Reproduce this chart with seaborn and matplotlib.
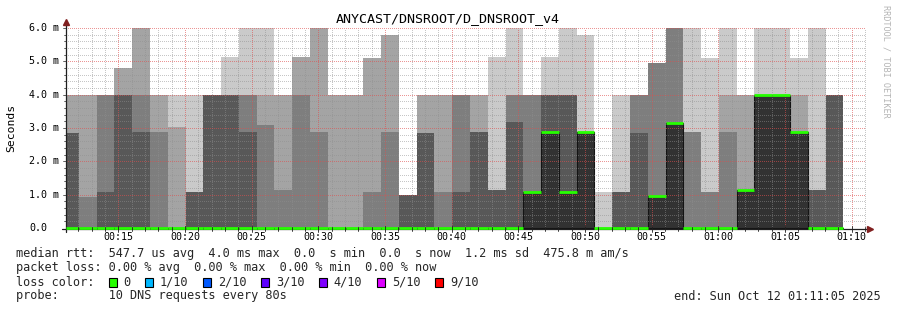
import matplotlib
matplotlib.use("Agg")
import matplotlib.pyplot as plt
from matplotlib.lines import Line2D
from matplotlib.patches import Rectangle
from matplotlib import transforms
import numpy as np
import pandas as pd
import seaborn as sns

# ---------------- data ----------------
title = "ANYCAST/DNSROOT/D_DNSROOT_v4"
window_start = "00:11:05"
window_end = "01:11:05"
step_s = 80  # probe interval (10 DNS requests every 80s)

bucket_start = [
    "00:10:43", "00:12:03", "00:13:23", "00:14:43", "00:16:03", "00:17:23",
    "00:18:43", "00:20:03", "00:21:23", "00:22:43", "00:24:03", "00:25:23",
    "00:26:43", "00:28:03", "00:29:23", "00:30:43", "00:32:03", "00:33:23",
    "00:34:43", "00:36:03", "00:37:23", "00:38:43", "00:40:03", "00:41:23",
    "00:42:43", "00:44:03", "00:45:23", "00:46:43", "00:48:03", "00:49:23",
    "00:50:43", "00:52:03", "00:53:23", "00:54:43", "00:56:03", "00:57:23",
    "00:58:43", "01:00:03", "01:01:23", "01:02:43", "01:04:03", "01:05:23",
    "01:06:43", "01:08:03",
]

# sorted ping RTTs per bucket (ms); pings 1-5 were all 0.0 in every bucket
ping1 = [0.0] * 44
ping2 = [0.0] * 44
ping3 = [0.0] * 44
ping4 = [0.0] * 44
ping5 = [0.0] * 44
ping6 = [0, 0, 0, 0, 0, 0, 0, 0, 0, 0, 0, 0, 0, 0, 0, 0, 0, 0, 0, 0, 0, 0,
         0, 0, 0, 0, 1.09, 2.87, 1.09, 2.89, 0, 0, 0, 0.95, 3.15, 0, 0, 0,
         1.15, 4.0, 4.0, 2.89, 0, 0]
ping7 = [2.85, 0, 1.09, 4.0, 2.87, 0, 0, 1.09, 4.0, 4.0, 2.89, 0, 0, 0, 0,
         0, 0, 0, 0, 0.99, 2.85, 0, 1.09, 2.89, 1.15, 3.19, 1.09, 4.0, 4.0,
         2.89, 0, 1.09, 2.85, 0.95, 3.15, 0, 0, 0, 1.15, 4.0, 4.0, 2.89,
         1.15, 4.0]
ping8 = [2.85, 0.94, 4.0, 4.0, 4.0, 2.87, 0, 1.09, 4.0, 4.0, 4.0, 3.09,
         1.15, 4.0, 2.89, 0, 0, 1.09, 2.89, 0.99, 2.85, 1.09, 4.0, 2.89,
         1.15, 4.0, 4.0, 4.0, 4.0, 2.89, 0, 1.09, 4.0, 4.95, 6.0, 2.89,
         1.09, 2.89, 1.15, 4.0, 4.0, 2.89, 1.15, 4.0]
ping9 = [4.0, 4.0, 4.0, 4.8, 6.0, 4.0, 3.02, 1.09, 4.0, 4.0, 4.0, 4.0, 4.0,
         5.14, 6.0, 4.0, 4.0, 5.1, 5.79, 0.99, 4.0, 4.0, 4.0, 4.0, 1.15,
         4.0, 4.0, 4.0, 4.0, 2.89, 0, 1.09, 4.0, 4.95, 6.0, 2.89, 1.09,
         4.0, 4.0, 4.0, 4.0, 4.0, 1.15, 4.0]
ping10 = [4.0, 4.0, 4.0, 4.8, 6.0, 4.0, 4.0, 4.0, 4.0, 5.14, 6.0, 6.0, 4.0,
          5.14, 6.0, 4.0, 4.0, 5.1, 5.79, 0.99, 4.0, 4.0, 4.0, 4.0, 5.14,
          6.0, 4.0, 5.14, 6.0, 5.79, 1.09, 4.0, 4.0, 4.95, 6.0, 6.0, 5.1,
          6.0, 4.0, 6.0, 6.0, 5.1, 6.0, 4.0]
median_ms = [0, 0, 0, 0, 0, 0, 0, 0, 0, 0, 0, 0, 0, 0, 0, 0, 0, 0, 0, 0, 0,
             0, 0, 0, 0, 0, 1.09, 2.87, 1.09, 2.89, 0, 0, 0, 0.95, 3.15, 0,
             0, 0, 1.15, 4.0, 4.0, 2.89, 0, 0]

x_tick_labels = ["00:15", "00:20", "00:25", "00:30", "00:35", "00:40",
                 "00:45", "00:50", "00:55", "01:00", "01:05", "01:10"]
y_tick_values = [0, 1, 2, 3, 4, 5, 6]
y_tick_labels = ["0.0", "1.0 m", "2.0 m", "3.0 m", "4.0 m", "5.0 m", "6.0 m"]
y_label = "Seconds"

loss_labels = ["0", "1/10", "2/10", "3/10", "4/10", "5/10", "9/10"]
loss_colors = ["#26ff00", "#00b8ff", "#0059ff", "#5e00ff", "#7e00ff",
               "#dd00ff", "#ff0000"]
smoke_colors = ["#cacaca", "#a4a4a4", "#7e7e7e", "#585858", "#323232"]

line_rtt = "median rtt:  547.7 us avg  4.0 ms max  0.0  s min  0.0  s now  1.2 ms sd  475.8 m am/s"
line_loss = "packet loss: 0.00 % avg  0.00 % max  0.00 % min  0.00 % now"
line_color = "loss color:"
line_probe = "probe:       10 DNS requests every 80s"
line_end = "end: Sun Oct 12 01:11:05 2025"
watermark = "RRDTOOL / TOBI OETIKER"

# ---------------- style ----------------
sns.set_theme(style="white")
plt.rcParams["font.family"] = ["DejaVu Sans Mono", "DejaVu Sans"]

W, H = 897, 310
fig = plt.figure(figsize=(W / 100, H / 100), dpi=100, facecolor="white")
ax = fig.add_axes([66 / W, (H - 228) / H, 800 / W, 200 / H])
ax.set_facecolor("white")


def to_min(s):
    return pd.to_timedelta(s).total_seconds() / 60.0


starts = [to_min(s) for s in bucket_start]
edges = starts + [starts[-1] + step_s / 60.0]
t0, t1 = to_min(window_start), to_min(window_end)


def ext(v):
    return list(v) + [v[-1]]


lows = [ping1, ping2, ping3, ping4, ping5]
highs = [ping10, ping9, ping8, ping7, ping6]
for i, (lo, hi, col) in enumerate(zip(lows, highs, smoke_colors)):
    if i == 4:
        ax.fill_between(edges, ext(lo), ext(hi), step="post", facecolor=col,
                        edgecolor="#141414", linewidth=0.8, zorder=1 + i * 0.1)
    else:
        ax.fill_between(edges, ext(lo), ext(hi), step="post", color=col,
                        linewidth=0, zorder=1 + i * 0.1)

ax.set_xlim(t0, t1)
ax.set_ylim(0, 6.0)

# grid on top of the smoke (dotted)
grid_col = (0.56, 0.56, 0.56, 0.5)
mgrid_col = (0.87, 0.31, 0.31, 0.6)
dot = (0, (0.6, 1.4))
gkw = dict(lw=0.72, ls=dot, antialiased=False)
major_x = [to_min(s + ":00") for s in x_tick_labels]
for m in np.arange(np.ceil(t0), t1, 1.0):
    if not any(abs(m - M) < 1e-6 for M in major_x):
        ax.axvline(m, color=grid_col, zorder=3, **gkw)
for M in major_x:
    ax.axvline(M, color=mgrid_col, zorder=3.1, **gkw)
for v in np.arange(0.2, 6.01, 0.2):
    if abs(v - round(v)) > 1e-6:
        ax.axhline(v, color=grid_col, zorder=3, **gkw)
for v in y_tick_values[1:]:
    ax.axhline(v, color=mgrid_col, zorder=3.1, **gkw)

ax.set_xlabel("")
ax.set_ylabel("")
ax.set_xticks([])
ax.set_yticks([])
for sp in ax.spines.values():
    sp.set_visible(False)


def fx(px):
    return px / W


def fy(py):
    return 1 - py / H


axis_col = (0.12, 0.12, 0.12)
arrow_col = (0.50, 0.12, 0.12)
xtr = transforms.blended_transform_factory(ax.transData, fig.transFigure)
ytr = transforms.blended_transform_factory(fig.transFigure, ax.transData)

# axes lines (drawn inside the axes so the median line can sit on top)
ax.add_line(Line2D([fx(62), fx(868)], [fy(228.5), fy(228.5)],
                   transform=fig.transFigure, color=axis_col, lw=0.9,
                   zorder=4, clip_on=False))
ax.add_line(Line2D([fx(66), fx(66)], [fy(232), fy(24)],
                   transform=fig.transFigure, color=axis_col, lw=0.9,
                   zorder=4, clip_on=False))
fig.add_artist(Line2D([fx(870)], [fy(228.5)], marker=">", markersize=4.5,
                      color=arrow_col, lw=0, zorder=6))
fig.add_artist(Line2D([fx(66)], [fy(22)], marker="^", markersize=4.5,
                      color=arrow_col, lw=0, zorder=6))

# median line, coloured by loss (all 0 loss -> green), one segment per bucket
rows = []
for b, (s, e, m) in enumerate(zip(edges[:-1], edges[1:], median_ms)):
    rows.append({"t": max(s, t0), "median": m, "bucket": b})
    rows.append({"t": e, "median": m, "bucket": b})
mdf = pd.DataFrame(rows)
sns.lineplot(data=mdf, x="t", y="median", units="bucket", estimator=None,
             color=loss_colors[0], linewidth=2.0, legend=False, ax=ax,
             zorder=5, solid_capstyle="butt")
for ln in ax.get_lines():
    if ln.get_color() == loss_colors[0]:
        ln.set_clip_on(False)
ax.set_xlim(t0, t1)
ax.set_ylim(0, 6.0)
ax.set_xlabel("")
ax.set_ylabel("")

# tick marks
for m in np.arange(np.ceil(t0), t1, 1.0):
    major = any(abs(m - M) < 1e-6 for M in major_x)
    ln = 3 if major else 2
    fig.add_artist(Line2D([m, m], [fy(228.5 - ln), fy(228.5 + ln)],
                          transform=xtr, color=axis_col, lw=0.6, zorder=4))
for v in np.arange(0.2, 6.01, 0.2):
    major = abs(v - round(v)) < 1e-6
    ln = 3 if major else 2
    fig.add_artist(Line2D([fx(66 - ln), fx(66)], [v, v], transform=ytr,
                          color=axis_col, lw=0.5, zorder=4))

# tick labels
for lab, M in zip(x_tick_labels, major_x):
    fig.text(M, fy(237.5), lab, transform=xtr, ha="center", va="center",
             fontsize=7.2, color="black")
for lab, v in zip(y_tick_labels, y_tick_values):
    fig.text(fx(29), v, lab, transform=ytr, ha="left", va="center",
             fontsize=7.2, color="black")

fig.text(fx(11), fy(128), y_label, rotation=90, ha="center", va="center",
         fontsize=8.2, color="black")
fig.text(fx(448), fy(19), title, ha="center", va="center", fontsize=9.6,
         color="black")
fig.text(fx(886), fy(5), watermark, rotation=270, ha="center", va="top",
         fontsize=6.1, color="#b4b4b4")

# legend
lfs = 8.55
fig.text(fx(16), fy(254), line_rtt, ha="left", va="center", fontsize=lfs)
fig.text(fx(16), fy(268), line_loss, ha="left", va="center", fontsize=lfs)
fig.text(fx(16), fy(282), line_color, ha="left", va="center", fontsize=lfs)
fig.text(fx(16), fy(296), line_probe, ha="left", va="center", fontsize=lfs)
fig.text(fx(881), fy(296), line_end, ha="right", va="center", fontsize=lfs)

x = 108.5
for lab, col in zip(loss_labels, loss_colors):
    fig.add_artist(Rectangle((fx(x), fy(286.5)), 8 / W, 9 / H,
                             facecolor=col, edgecolor="black", lw=0.8,
                             transform=fig.transFigure))
    fig.text(fx(x + 14.5), fy(282), lab, ha="left", va="center", fontsize=lfs)
    x = x + 14.5 + len(lab) * 7.05 + 15.3

fig.savefig("out.png", dpi=100, facecolor="white")
